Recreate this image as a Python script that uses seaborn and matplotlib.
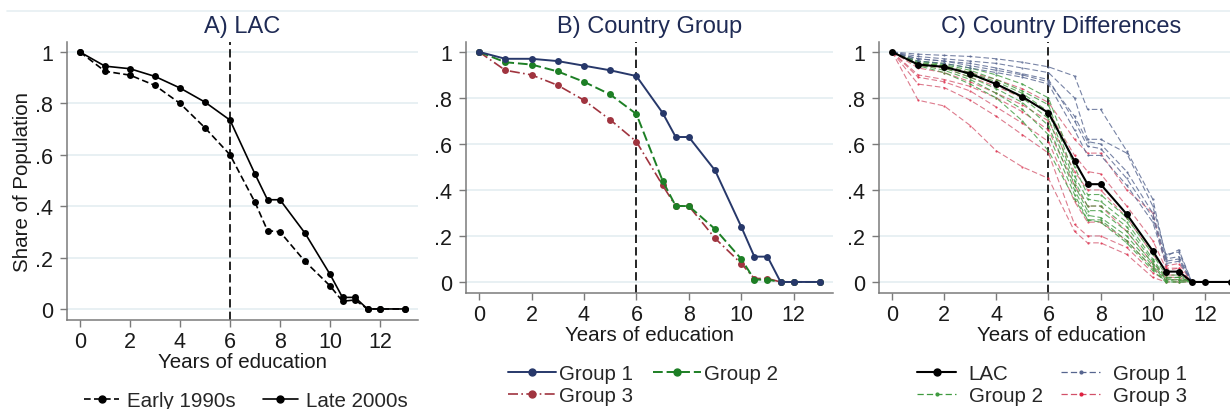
import matplotlib
matplotlib.use("Agg")
import matplotlib.pyplot as plt
from matplotlib.lines import Line2D
import seaborn as sns
import pandas as pd

# data (share of population with at least x years)
YEARS = [0, 1, 2, 3, 4, 5, 6, 7, 7.5, 8, 9, 10, 10.5, 11, 11.5, 12, 13]

LAC_EARLY = [1.0, 0.925, 0.91, 0.87, 0.80, 0.705, 0.60, 0.415, 0.305, 0.30, 0.185, 0.09, 0.03, 0.035, 0.0, 0.0, 0.0]
LAC_LATE = [1.0, 0.945, 0.935, 0.905, 0.86, 0.805, 0.735, 0.525, 0.425, 0.425, 0.295, 0.135, 0.045, 0.045, 0.0, 0.0, 0.0]

GROUP1 = [1.0, 0.97, 0.97, 0.96, 0.94, 0.92, 0.895, 0.735, 0.63, 0.63, 0.485, 0.24, 0.11, 0.11, 0.0, 0.0, 0.0]
GROUP2 = [1.0, 0.955, 0.945, 0.915, 0.87, 0.815, 0.73, 0.44, 0.33, 0.33, 0.23, 0.10, 0.01, 0.01, 0.0, 0.0, 0.0]
GROUP3 = [1.0, 0.92, 0.90, 0.855, 0.79, 0.705, 0.61, 0.42, 0.33, 0.33, 0.19, 0.08, 0.015, 0.015, 0.0, 0.0, 0.0]

# individual countries, panel C
G1_COUNTRIES = [
    [1.0, 0.99, 0.985, 0.98, 0.97, 0.955, 0.935, 0.895, 0.75, 0.75, 0.57, 0.36, 0.11, 0.14, 0.0, 0.0, 0.0],
    [1.0, 0.98, 0.97, 0.96, 0.95, 0.93, 0.91, 0.80, 0.62, 0.62, 0.56, 0.33, 0.12, 0.13, 0.0, 0.0, 0.0],
    [1.0, 0.97, 0.96, 0.95, 0.93, 0.905, 0.88, 0.70, 0.59, 0.58, 0.45, 0.28, 0.09, 0.10, 0.0, 0.0, 0.0],
    [1.0, 0.97, 0.96, 0.94, 0.92, 0.90, 0.87, 0.72, 0.61, 0.60, 0.48, 0.30, 0.10, 0.11, 0.0, 0.0, 0.0],
    [1.0, 0.96, 0.95, 0.93, 0.91, 0.89, 0.86, 0.66, 0.55, 0.55, 0.42, 0.26, 0.08, 0.09, 0.0, 0.0, 0.0],
]
G2_COUNTRIES = [
    [1.0, 0.96, 0.95, 0.93, 0.90, 0.86, 0.80, 0.50, 0.38, 0.38, 0.28, 0.12, 0.03, 0.03, 0.0, 0.0, 0.0],
    [1.0, 0.96, 0.945, 0.92, 0.88, 0.83, 0.77, 0.46, 0.36, 0.35, 0.26, 0.10, 0.02, 0.02, 0.0, 0.0, 0.0],
    [1.0, 0.95, 0.94, 0.91, 0.87, 0.82, 0.74, 0.44, 0.33, 0.33, 0.24, 0.09, 0.015, 0.02, 0.0, 0.0, 0.0],
    [1.0, 0.955, 0.94, 0.90, 0.86, 0.80, 0.71, 0.42, 0.31, 0.31, 0.22, 0.08, 0.01, 0.01, 0.0, 0.0, 0.0],
    [1.0, 0.95, 0.93, 0.89, 0.84, 0.78, 0.68, 0.40, 0.29, 0.28, 0.20, 0.07, 0.005, 0.01, 0.0, 0.0, 0.0],
    [1.0, 0.945, 0.92, 0.88, 0.82, 0.75, 0.64, 0.38, 0.27, 0.27, 0.18, 0.06, 0.0, 0.0, 0.0, 0.0, 0.0],
    [1.0, 0.94, 0.91, 0.86, 0.80, 0.70, 0.57, 0.36, 0.27, 0.26, 0.17, 0.05, 0.0, 0.0, 0.0, 0.0, 0.0],
]
G3_COUNTRIES = [
    [1.0, 0.79, 0.765, 0.68, 0.57, 0.50, 0.45, 0.22, 0.17, 0.17, 0.12, 0.02, 0.0, 0.0, 0.0, 0.0, 0.0],
    [1.0, 0.86, 0.845, 0.79, 0.72, 0.64, 0.56, 0.25, 0.20, 0.20, 0.15, 0.04, 0.01, 0.01, 0.0, 0.0, 0.0],
    [1.0, 0.89, 0.87, 0.83, 0.76, 0.69, 0.61, 0.35, 0.26, 0.26, 0.18, 0.06, 0.02, 0.02, 0.0, 0.0, 0.0],
    [1.0, 0.90, 0.88, 0.85, 0.80, 0.74, 0.66, 0.42, 0.33, 0.33, 0.22, 0.08, 0.03, 0.03, 0.0, 0.0, 0.0],
    [1.0, 0.93, 0.91, 0.87, 0.82, 0.77, 0.70, 0.48, 0.40, 0.40, 0.28, 0.12, 0.05, 0.06, 0.0, 0.0, 0.0],
    [1.0, 0.94, 0.93, 0.89, 0.85, 0.80, 0.74, 0.55, 0.48, 0.47, 0.33, 0.18, 0.06, 0.06, 0.0, 0.0, 0.0],
    [1.0, 0.95, 0.94, 0.91, 0.88, 0.84, 0.78, 0.62, 0.56, 0.56, 0.40, 0.30, 0.07, 0.08, 0.0, 0.0, 0.0],
]

XTICKS = [0, 2, 4, 6, 8, 10, 12]
YTICKS = [0, 0.2, 0.4, 0.6, 0.8, 1.0]
YTICK_LABELS = ["0", ".2", ".4", ".6", ".8", "1"]
TITLES = ["A) LAC", "B) Country Group", "C) Country Differences"]
XLABEL = "Years of education"
YLABEL = "Share of Population"

NAVY = "#27386a"
GREEN = "#1d7f25"
MAROON = "#a0343f"
C_NAVY = "#56658f"
C_GREEN = "#3f9a3f"
C_RED = "#d25068"
TITLE_COLOR = "#1f2b55"
GRID_COLOR = "#e6eff2"
LABEL_SIZE = 14.8

sns.set_style("white")
plt.rcParams["font.family"] = ["Liberation Sans", "DejaVu Sans"]

W, H = 1230, 410
fig = plt.figure(figsize=(W / 100, H / 100), dpi=100)


def px_axes(left, top, right, bottom):
    return fig.add_axes([left / W, 1 - bottom / H, (right - left) / W, (bottom - top) / H])


def style_axes(ax, xlim, ylim, title):
    ax.set_xlim(*xlim)
    ax.set_ylim(*ylim)
    ax.set_xticks(XTICKS)
    ax.set_xticklabels([str(t) for t in XTICKS])
    ax.set_yticks(YTICKS)
    ax.set_yticklabels(YTICK_LABELS)
    ax.grid(axis="y", color=GRID_COLOR, linewidth=1.3)
    ax.set_axisbelow(True)
    for s in ["top", "right"]:
        ax.spines[s].set_visible(False)
    for s in ["left", "bottom"]:
        ax.spines[s].set_color("#7a7a7a")
        ax.spines[s].set_linewidth(1.1)
    ax.tick_params(axis="both", direction="out", length=5, width=1.0, color="#7a7a7a",
                   labelsize=15.5, labelcolor="#1a1a1a", left=True, bottom=True)
    ax.tick_params(axis="x", pad=3)
    ax.tick_params(axis="y", pad=5)
    ax.axvline(6, color="black", linestyle=(0, (5, 2.5)), linewidth=1.2, zorder=1)
    ax.set_title(title, fontsize=17, color=TITLE_COLOR, pad=7)
    ax.set_xlabel(XLABEL, fontsize=LABEL_SIZE, color="#1a1a1a")
    ax.set_ylabel("")


def draw(ax, y, color, ls, lw, ms, alpha=1.0, mcolor=None):
    sns.lineplot(x=YEARS, y=y, ax=ax, color=color, linestyle=ls, linewidth=lw,
                 marker="o", markersize=ms, markeredgewidth=0,
                 markerfacecolor=mcolor or color, alpha=alpha, legend=False,
                 errorbar=None, zorder=3)


# ---- panel A
axA = px_axes(67, 43, 418, 321)
style_axes(axA, (-0.52, 13.52), (-0.043, 1.039), TITLES[0])
draw(axA, LAC_EARLY, "black", (0, (4, 2)), 1.2, 5)
draw(axA, LAC_LATE, "black", "-", 1.2, 5)
axA.xaxis.set_label_coords(0.5, (321 - 353) / 278)
fig.text(23 / W, 1 - 182 / H, YLABEL, rotation=90, ha="center", va="center",
         fontsize=LABEL_SIZE, color="#1a1a1a")

# ---- panel B
axB = px_axes(466, 43, 833, 294)
style_axes(axB, (-0.5, 13.5), (-0.048, 1.043), TITLES[1])
draw(axB, GROUP3, MAROON, (0, (6, 2, 1, 2)), 1.2, 5)
draw(axB, GROUP2, GREEN, (0, (5, 2)), 1.4, 5)
draw(axB, GROUP1, NAVY, "-", 1.4, 5)
axB.xaxis.set_label_coords(0.5, (294 - 326) / 251)

# ---- panel C (runs off the right edge like the reference)
axC = px_axes(879, 43, 1244, 294)
style_axes(axC, (-0.5, 13.5), (-0.048, 1.043), TITLES[2])
for series in G3_COUNTRIES:
    draw(axC, series, C_RED, (0, (5, 2.5)), 0.8, 1.6, alpha=0.75, mcolor="#e0203f")
for series in G2_COUNTRIES:
    draw(axC, series, C_GREEN, (0, (5, 2.5)), 0.8, 1.6, alpha=0.8)
for series in G1_COUNTRIES:
    draw(axC, series, C_NAVY, (0, (5, 2.5)), 0.8, 1.6, alpha=0.8)
draw(axC, LAC_LATE, "black", "-", 1.5, 5)
axC.xaxis.set_label_coords(0.5, (294 - 326) / 251)

# faint frame line along the top, as in the Stata export
fig.add_artist(Line2D([7 / W, 1], [1 - 12 / H, 1 - 12 / H], color=GRID_COLOR, linewidth=1.2))

# ---- legends (matplotlib fills columns first)
leg_kw = dict(frameon=False, fontsize=LABEL_SIZE, borderpad=0, borderaxespad=0,
              labelspacing=0.15, loc="upper center")

hA = [Line2D([], [], color="black", ls=(0, (4, 2)), lw=1.2, marker="o", ms=5),
      Line2D([], [], color="black", ls="-", lw=1.2, marker="o", ms=5)]
fig.legend(hA, ["Early 1990s", "Late 2000s"], ncol=2, handlelength=1.7, handletextpad=0.4,
           columnspacing=1.3, bbox_to_anchor=(246 / W, 1 - 392 / H), **leg_kw)

hB = [Line2D([], [], color=NAVY, ls="-", lw=1.4, marker="o", ms=5),
      Line2D([], [], color=MAROON, ls=(0, (6, 2, 1, 2)), lw=1.2, marker="o", ms=5),
      Line2D([], [], color=GREEN, ls=(0, (5, 2)), lw=1.4, marker="o", ms=5)]
fig.legend(hB, ["Group 1", "Group 3", "Group 2"], ncol=2, handlelength=2.3, handletextpad=0.15,
           columnspacing=1.0, bbox_to_anchor=(643 / W, 1 - 365 / H), **leg_kw)

hC = [Line2D([], [], color="black", ls="-", lw=1.5, marker="o", ms=5),
      Line2D([], [], color=C_GREEN, ls=(0, (5, 2.5)), lw=0.9, marker="o", ms=2),
      Line2D([], [], color=C_NAVY, ls=(0, (5, 2.5)), lw=0.9, marker="o", ms=2),
      Line2D([], [], color=C_RED, ls=(0, (5, 2.5)), lw=0.9, marker="o", ms=2, mfc="#e0203f", mec="#e0203f")]
fig.legend(hC, ["LAC", "Group 2", "Group 1", "Group 3"], ncol=2, handlelength=1.9,
           handletextpad=0.6, columnspacing=0.9,
           bbox_to_anchor=(1052 / W, 1 - 365 / H), **leg_kw)

fig.savefig("out.png", dpi=100)
